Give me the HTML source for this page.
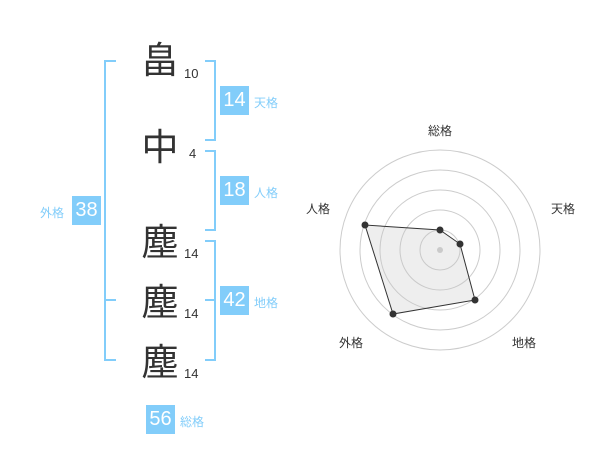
<!DOCTYPE html>
<html><head><meta charset="utf-8"><style>
body{margin:0;width:600px;height:470px;background:#fff;position:relative;overflow:hidden;font-family:"Liberation Sans","Noto Sans CJK JP",sans-serif}
.a{position:absolute;line-height:1}
.k{font-size:37px;color:#333;font-family:"Noto Sans CJK JP",sans-serif;left:141px;width:38px;text-align:center}
.n{font-size:13px;color:#333;left:184px}
.b{background:#82cdfa;color:#fff;font-size:20px;width:29px;height:29px;text-align:center;line-height:29px}
.l{font-size:12px;color:#82cdfa;font-family:"Noto Sans CJK JP",sans-serif}
.v{position:absolute;background:#82cdfa}
</style></head><body>
<div class="a k" style="top:39px">畠</div>
<div class="a k" style="top:126px">中</div>
<div class="a k" style="top:221px">塵</div>
<div class="a k" style="top:281px">塵</div>
<div class="a k" style="top:341px">塵</div>
<div class="a n" style="top:67px">10</div>
<div class="a n" style="top:147px;left:189px">4</div>
<div class="a n" style="top:247px">14</div>
<div class="a n" style="top:307px">14</div>
<div class="a n" style="top:367px">14</div>
<div class="v" style="left:104px;top:60px;width:2px;height:301px"></div>
<div class="v" style="left:104px;top:60px;width:12px;height:2px"></div>
<div class="v" style="left:104px;top:299px;width:12px;height:2px"></div>
<div class="v" style="left:104px;top:359px;width:12px;height:2px"></div>
<div class="v" style="left:214px;top:60px;width:2px;height:81px"></div>
<div class="v" style="left:205px;top:60px;width:10px;height:2px"></div>
<div class="v" style="left:205px;top:139px;width:10px;height:2px"></div>
<div class="v" style="left:214px;top:150px;width:2px;height:81px"></div>
<div class="v" style="left:205px;top:150px;width:10px;height:2px"></div>
<div class="v" style="left:205px;top:229px;width:10px;height:2px"></div>
<div class="v" style="left:214px;top:240px;width:2px;height:121px"></div>
<div class="v" style="left:205px;top:240px;width:10px;height:2px"></div>
<div class="v" style="left:205px;top:299px;width:10px;height:2px"></div>
<div class="v" style="left:205px;top:359px;width:10px;height:2px"></div>
<div class="a b" style="left:220px;top:86px">14</div><div class="a l" style="left:254px;top:97px">天格</div>
<div class="a b" style="left:220px;top:176px">18</div><div class="a l" style="left:254px;top:187px">人格</div>
<div class="a b" style="left:220px;top:286px">42</div><div class="a l" style="left:254px;top:297px">地格</div>
<div class="a b" style="left:72px;top:196px">38</div><div class="a l" style="left:40px;top:207px">外格</div>
<div class="a b" style="left:146px;top:405px">56</div><div class="a l" style="left:180px;top:416px">総格</div>
<svg style="position:absolute;left:0;top:0" width="600" height="470">
<g fill="none" stroke="#ccc" stroke-width="1">
<circle cx="440" cy="250" r="100"/><circle cx="440" cy="250" r="80"/><circle cx="440" cy="250" r="60"/><circle cx="440" cy="250" r="40"/><circle cx="440" cy="250" r="20"/>
</g>
<circle cx="440" cy="250" r="3" fill="#ccc"/>
<polygon points="440,230 460,244 475,300 393,314 365,225" fill="rgba(200,200,200,0.3)" stroke="#333" stroke-width="1"/>
<g fill="#333"><circle cx="440" cy="230" r="3.5"/><circle cx="460" cy="244" r="3.5"/><circle cx="475" cy="300" r="3.5"/><circle cx="393" cy="314" r="3.5"/><circle cx="365" cy="225" r="3.5"/></g>
<g font-size="12" fill="#333" font-family="Noto Sans CJK JP,sans-serif" text-anchor="middle">
<text x="440" y="135">総格</text><text x="563" y="213">天格</text><text x="524" y="347">地格</text><text x="351" y="347">外格</text><text x="318" y="213">人格</text>
</g>
</svg>
</body></html>
